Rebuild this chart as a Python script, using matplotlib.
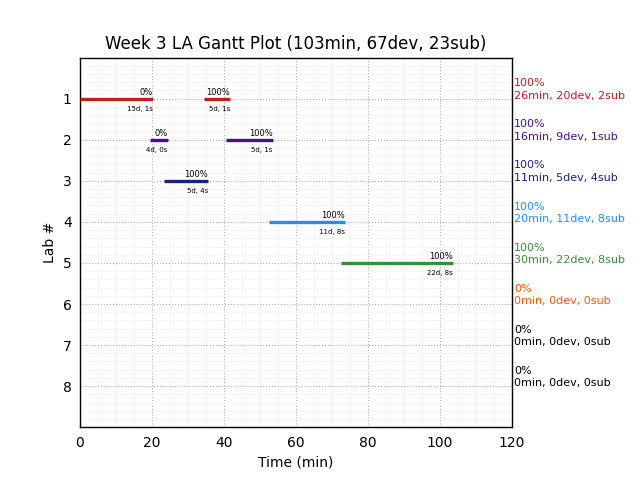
import matplotlib
matplotlib.use('Agg')
import matplotlib.pyplot as plt
from matplotlib.ticker import AutoMinorLocator

labs = [1, 2, 3, 4, 5, 6, 7, 8]
colors = ['#bf1e24', '#4b0d8f', '#1a237e', '#1e90ff', '#388e3c', '#ff5a0a', 'black', 'black']

# each session: (lab, start, end, percent, info)
sessions = [
	(1, 0.0, 20.3, '0%', '15d, 1s'),
	(1, 34.4, 41.7, '100%', '5d, 1s'),
	(2, 19.4, 24.4, '0%', '4d, 0s'),
	(2, 40.6, 53.5, '100%', '5d, 1s'),
	(3, 23.3, 35.5, '100%', '5d, 4s'),
	(4, 52.5, 73.6, '100%', '11d, 8s'),
	(5, 72.4, 103.5, '100%', '22d, 8s'),
]

summary_pct = ['100%', '100%', '100%', '100%', '100%', '0%', '0%', '0%']
summary_txt = ['26min, 20dev, 2sub', '16min, 9dev, 1sub', '11min, 5dev, 4sub',
	'20min, 11dev, 8sub', '30min, 22dev, 8sub', '0min, 0dev, 0sub',
	'0min, 0dev, 0sub', '0min, 0dev, 0sub']

fig, ax = plt.subplots(figsize=(6.4, 4.8), dpi=100)
fig.subplots_adjust(left=0.125, right=0.8, top=0.88, bottom=0.11)

for lab, start, end, pct, info in sessions:
	c = colors[lab - 1]
	ax.plot([start, end], [lab, lab], color=c, linewidth=2.4, solid_capstyle='butt', zorder=3)
	ax.text(end, lab - 0.05, pct, ha='right', va='bottom', fontsize=6)
	ax.text(end, lab + 0.17, info, ha='right', va='top', fontsize=5)

for i, lab in enumerate(labs):
	ax.text(1.005, lab + 0.05, summary_pct[i] + '\n' + summary_txt[i],
		transform=ax.get_yaxis_transform(), ha='left', va='bottom',
		fontsize=8, color=colors[i], linespacing=1.3)

ax.set_xlim(0, 120)
ax.set_ylim(9, 0)
ax.set_yticks(labs)
ax.xaxis.set_minor_locator(AutoMinorLocator())
ax.yaxis.set_minor_locator(AutoMinorLocator())
ax.grid(which='major', linestyle=':', color='#b0b0b0', linewidth=0.8)
ax.grid(which='minor', linestyle='-', color='#f4f4f4', linewidth=0.6)
ax.tick_params(which='both', length=0, pad=6)
ax.set_axisbelow(True)
for s in ax.spines.values():
	s.set_linewidth(1.0)

ax.set_title('Week 3 LA Gantt Plot (103min, 67dev, 23sub)', fontsize=12)
ax.set_xlabel('Time (min)')
ax.set_ylabel('Lab #')

plt.savefig('out.png', dpi=100)
